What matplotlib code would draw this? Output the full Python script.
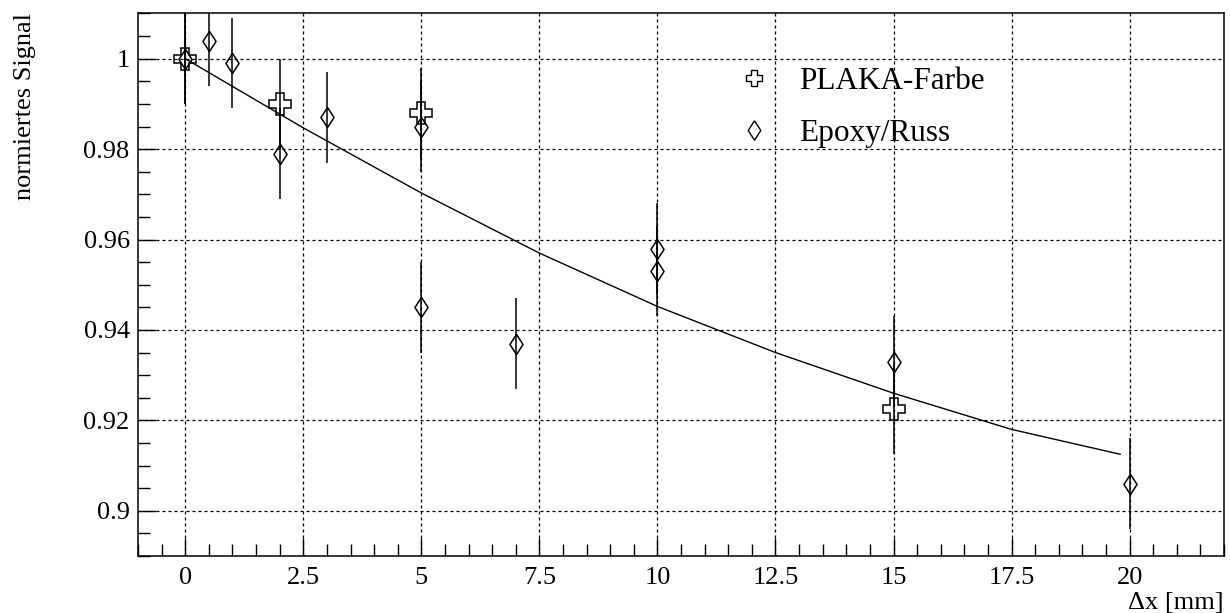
import matplotlib
matplotlib.use("Agg")
import matplotlib.pyplot as plt
from matplotlib.lines import Line2D
from matplotlib.ticker import MultipleLocator, FormatStrFormatter
import numpy as np

plt.rcParams['font.family'] = ['Liberation Serif', 'DejaVu Serif']

# PLAKA-Farbe (offene Kreuze)
plaka_x = [0, 2, 5, 15]
plaka_y = [1.000, 0.990, 0.988, 0.9225]
plaka_err = [0.01, 0.01, 0.01, 0.01]

# Epoxy/Russ (offene Rauten)
epoxy_x = [0, 0.5, 1, 2, 3, 5, 5, 7, 10, 10, 15, 20]
epoxy_y = [1.000, 1.004, 0.999, 0.979, 0.987, 0.985, 0.945, 0.937, 0.958, 0.953, 0.933, 0.906]
epoxy_err = [0.01] * 12

# Fitkurve
fit_x = [0, 2.5, 5, 7.5, 10, 12.5, 15, 17.5, 19.8]
fit_y = [1.000, 0.9847, 0.9703, 0.957, 0.9452, 0.935, 0.926, 0.918, 0.9125]

# offene Raute wie bei ROOT
raute = [(0, 1), (0.65, 0), (0, -1), (-0.65, 0), (0, 1)]

fig = plt.figure(figsize=(12.3, 6.13), dpi=100)
ax = fig.add_axes([0.1122, 0.093, 0.883, 0.885])

ax.set_xlim(-1, 22)
ax.set_ylim(0.89, 1.01)

ax.grid(True, which='major', color='black', linestyle=(0, (2.4, 2.4)), linewidth=0.9)
ax.set_axisbelow(True)

ax.plot(fit_x, fit_y, color='black', linewidth=1.0, zorder=3)

ax.errorbar(epoxy_x, epoxy_y, yerr=epoxy_err, fmt='none', ecolor='black',
            elinewidth=1.1, capsize=0, zorder=4)
ax.plot(epoxy_x, epoxy_y, linestyle='none', marker=raute, ms=14.5,
        mfc='none', mec='black', mew=1.1, zorder=4)
ax.errorbar(plaka_x, plaka_y, yerr=plaka_err, fmt='P', color='black',
            mfc='none', mec='black', ms=16, mew=1.1, elinewidth=1.1,
            capsize=0, zorder=5)

handles = [
    Line2D([], [], linestyle='none', marker='P', ms=12, mfc='none', mec='black', mew=1.0),
    Line2D([], [], linestyle='none', marker=raute, ms=14, mfc='none', mec='black', mew=1.0),
]
ax.legend(handles, ['PLAKA-Farbe', 'Epoxy/Russ'], loc='upper left',
          bbox_to_anchor=(0.538, 0.93), frameon=False, fontsize=22.5,
          handlelength=1.0, handletextpad=0.95, labelspacing=0.72,
          borderpad=0)

ax.xaxis.set_major_locator(MultipleLocator(2.5))
ax.xaxis.set_minor_locator(MultipleLocator(0.5))
ax.yaxis.set_major_locator(MultipleLocator(0.02))
ax.yaxis.set_minor_locator(MultipleLocator(0.005))
ax.xaxis.set_major_formatter(FormatStrFormatter('%g'))
ax.yaxis.set_major_formatter(FormatStrFormatter('%g'))

ax.tick_params(which='both', direction='in', top=False, right=False,
               labelsize=19, width=1.0)
ax.tick_params(which='major', length=13)
ax.tick_params(which='minor', length=8.5)
ax.tick_params(axis='x', pad=8)
ax.tick_params(axis='y', pad=6)

for s in ax.spines.values():
    s.set_linewidth(1.1)

ax.set_xlabel('\u0394x [mm]', fontsize=19, loc='right')
ax.xaxis.set_label_coords(1.0, -0.066)
ax.set_ylabel('normiertes Signal', fontsize=19, loc='top')
ax.yaxis.set_label_coords(-0.094, 1.0)

fig.savefig('out.png', dpi=100, facecolor='white')
